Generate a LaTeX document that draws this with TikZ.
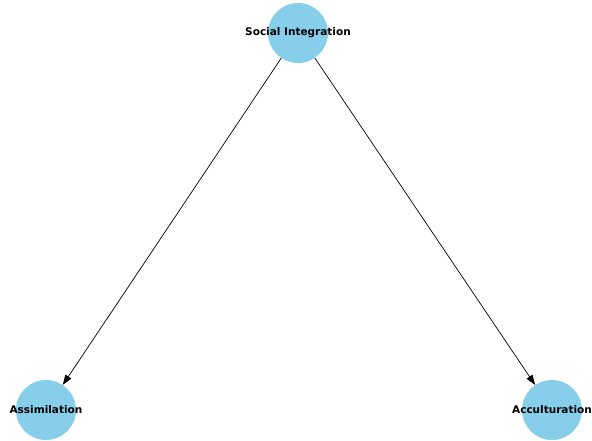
\documentclass[tikz,border=0pt]{standalone}
\usepackage{fontspec}
\setmainfont{DejaVu Sans}
\usetikzlibrary{arrows.meta}

\definecolor{skyblue}{RGB}{135,206,235}
\tikzset{
	concept/.style={circle, fill=skyblue, draw=none, minimum size=60pt, inner sep=0pt},
	conceptlabel/.style={font=\fontsize{10.5}{12}\selectfont\bfseries},
	link/.style={-{Triangle[length=10pt,width=7pt]}, line width=0.7pt, black},
}

\begin{document}
\begin{tikzpicture}[x=1pt,y=-1pt]
	\useasboundingbox (0,0) rectangle (592,441);
	\node [concept, label={[conceptlabel]center:Social Integration}] (social) at (298,33) {};
	\node [concept, label={[conceptlabel]center:Assimilation}] (assim) at (46,410) {};
	\node [concept, label={[conceptlabel]center:Acculturation}] (accult) at (552,410) {};
	
	\draw [link] (social) -- (assim);
	\draw [link] (social) -- (accult);
\end{tikzpicture}
\end{document}
